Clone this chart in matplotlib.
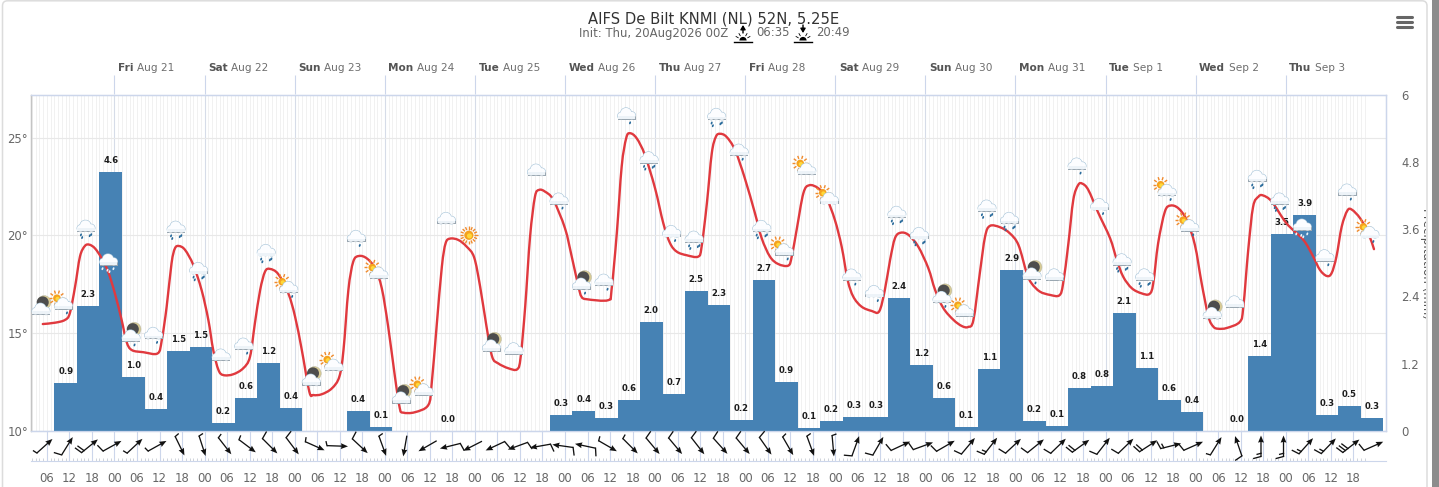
# -*- coding: utf-8 -*-
"""
Meteogram - AIFS De Bilt: temperature line, precipitation bars, wind arrows and
weather symbols
"""

import numpy as np
import matplotlib
matplotlib.use('Agg')
import matplotlib.pyplot as plt
from matplotlib.path import Path
from matplotlib.patches import Circle, Ellipse, FancyBboxPatch, PathPatch, Rectangle, Wedge

#==============================================================================
# data (hours counted from Thu 20 Aug 00Z)
#==============================================================================

title = 'AIFS De Bilt KNMI (NL) 52N, 5.25E'
init_label = 'Init: Thu, 20Aug2026 00Z'
sunrise = '06:35'
sunset = '20:49'

weekdays = ['Fri', 'Sat', 'Sun', 'Mon', 'Tue', 'Wed', 'Thu',
            'Fri', 'Sat', 'Sun', 'Mon', 'Tue', 'Wed', 'Thu']
dates = ['Aug 21', 'Aug 22', 'Aug 23', 'Aug 24', 'Aug 25', 'Aug 26', 'Aug 27',
         'Aug 28', 'Aug 29', 'Aug 30', 'Aug 31', 'Sep 1', 'Sep 2', 'Sep 3']

temp_hours = [4.9, 8.2, 10.8, 12.1, 13.5, 14.8, 16.1, 17.3, 18.8, 20.6, 22.3, 24.1, 25.9, 27.2, 28.6, 31.7,
              35.5, 36.6, 37.9, 39.2, 40.1, 41.2, 42.8, 45.0, 47.2, 49.0, 50.3, 51.7, 53.0, 55.6, 58.3, 60.1,
              61.4, 62.8, 64.1, 65.4, 67.6, 70.3, 72.1, 73.9, 75.9, 77.0, 79.2, 81.9, 83.9, 85.0, 86.3, 87.6,
              89.1, 91.2, 93.4, 95.2, 96.9, 98.7, 100.0, 100.9, 104.0, 107.6, 108.5, 109.8, 111.2, 112.2, 113.4, 115.6,
              117.8, 119.8, 121.4, 123.1, 124.6, 126.2, 128.9, 131.3, 132.2, 133.4, 134.7, 136.0, 137.1, 138.7, 140.9, 144.0,
              145.8, 147.6, 148.4, 149.8, 155.5, 156.4, 157.8, 159.1, 160.3, 161.3, 163.1, 165.3, 168.0, 170.2, 172.0, 173.8,
              176.4, 179.5, 180.4, 181.8, 183.1, 184.2, 185.3, 187.0, 189.3, 191.9, 194.6, 196.4, 198.6, 200.8, 203.5, 204.4,
              205.7, 207.5, 209.1, 211.5, 213.7, 215.9, 217.7, 219.3, 220.8, 223.0, 225.7, 227.7, 229.2, 230.6, 231.9, 233.4,
              235.5, 238.1, 240.8, 242.6, 244.8, 247.5, 249.7, 251.4, 252.8, 254.5, 255.9, 257.2, 259.9, 262.5, 264.8, 267.0,
              268.3, 270.5, 273.2, 275.7, 276.7, 278.1, 279.4, 280.7, 281.8, 283.4, 286.1, 289.2, 291.0, 292.7, 295.0, 297.6,
              299.7, 300.7, 302.0, 303.8, 305.3, 307.4, 309.6, 311.8, 313.6, 315.4, 316.7, 318.0, 320.3, 323.8, 324.7, 326.0,
              327.3, 328.7, 329.9, 332.3, 336.2, 340.7, 343.3, 345.1, 346.9, 348.2, 349.5, 350.9, 352.4, 353.6, 355.8, 358.0,
              359.5]
temp_values = [15.47, 15.54, 15.68, 16.02, 17.38, 18.92, 19.46, 19.53, 19.34, 18.83, 18.15, 17.04, 15.68, 14.57, 14.14, 14.03,
               13.97, 14.65, 16.36, 18.58, 19.34, 19.46, 19.26, 18.49, 17.21, 15.68, 14.14, 13.12, 12.86, 12.90, 13.21, 13.80,
               15.51, 17.21, 18.15, 18.29, 18.03, 17.04, 15.85, 14.14, 12.01, 11.84, 11.88, 12.18, 12.78, 14.14, 17.21, 18.66,
               18.95, 18.83, 18.32, 17.30, 15.34, 12.78, 11.16, 10.94, 10.96, 11.33, 12.44, 15.34, 18.40, 19.60, 19.84, 19.77,
               19.43, 18.88, 17.38, 15.34, 13.80, 13.46, 13.21, 13.16, 13.80, 16.36, 19.94, 21.98, 22.33, 22.24, 21.82, 20.37,
               18.92, 17.38, 16.87, 16.74, 16.69, 17.21, 20.11, 23.52, 24.97, 25.23, 24.97, 24.11, 22.41, 20.62, 19.60, 19.17,
               18.99, 18.92, 19.43, 21.65, 24.20, 25.05, 25.20, 25.05, 24.37, 22.93, 21.14, 19.86, 18.92, 18.54, 18.46, 18.92,
               20.28, 22.16, 22.57, 22.41, 21.90, 20.79, 19.43, 17.72, 16.87, 16.36, 16.14, 16.12, 17.21, 18.75, 19.86, 20.14,
               20.03, 19.43, 18.32, 17.21, 16.28, 15.68, 15.37, 15.32, 15.68, 18.07, 19.94, 20.49, 20.42, 20.11, 19.51, 18.07,
               17.55, 17.13, 16.96, 16.94, 17.55, 19.60, 21.82, 22.58, 22.65, 22.33, 21.14, 19.86, 18.75, 17.89, 17.30, 17.04,
               17.01, 17.55, 19.60, 21.22, 21.53, 21.39, 20.79, 19.51, 17.55, 15.85, 15.34, 15.23, 15.27, 15.59, 16.36, 19.26,
               21.47, 21.98, 22.05, 21.73, 20.62, 19.77, 18.92, 18.24, 17.93, 18.07, 18.92, 20.45, 21.27, 21.32, 20.88, 20.11,
               19.30]

precip_values = [0.86, 2.23, 4.62, 0.96, 0.39, 1.43, 1.50, 0.14, 0.59, 1.21, 0.41, 0.00, 0.00, 0.36, 0.07,
                 0.00, 0.00, 0.00, 0.00, 0.00, 0.00, 0.00, 0.28, 0.36, 0.23, 0.55, 1.94, 0.66, 2.50, 2.25,
                 0.20, 2.69, 0.87, 0.05, 0.18, 0.25, 0.25, 2.37, 1.18, 0.59, 0.07, 1.10, 2.87, 0.18, 0.09,
                 0.77, 0.80, 2.10, 1.12, 0.55, 0.34, 0.00, 0.00, 1.34, 3.51, 3.85, 0.28, 0.44, 0.23]
precip_labels = ['0.9', '2.3', '4.6', '1.0', '0.4', '1.5', '1.5', '0.2', '0.6', '1.2', '0.4', '', '', '0.4', '0.1',
                 '', '', '0.0', '', '', '', '', '0.3', '0.4', '0.3', '0.6', '2.0', '0.7', '2.5', '2.3',
                 '0.2', '2.7', '0.9', '0.1', '0.2', '0.3', '0.3', '2.4', '1.2', '0.6', '0.1', '1.1', '2.9', '0.2', '0.1',
                 '0.8', '0.8', '2.1', '1.1', '0.6', '0.4', '', '0.0', '1.4', '3.5', '3.9', '0.3', '0.5', '0.3']

# arrow heading in degrees (counter clockwise from east) and feather count in half barbs
wind_heading = [42, 58, 39, 29, 43, 29, -64, -72, -52, -37, -45, -53, -24, -2, -43, -70, -100, 210, 194, 207,
                205, 200, 190, 172, 168, -30, -45, -50, -50, -52, -48, -50, -55, -60, -70, -85, 70, 60, 25, 20,
                30, 50, 52, 43, 39, 44, 36, 52, 44, 33, 14, 24, 58, 109, 90, 90, 48, 46, 38, 24]
wind_feathers = [1, 2, 4, 2, 1, 1, 1, 1, 1, 1, 2, 2, 1, 1, 2, 1, 0, 0, 2, 0,
                 2, 2, 2, 2, 2, 1, 1, 2, 2, 2, 2, 2, 2, 1, 1, 1, 2, 2, 2, 2,
                 2, 2, 3, 2, 2, 2, 4, 2, 2, 4, 3, 2, 1, 2, 3, 3, 3, 3, 6, 2]

symbol_kinds = ['moon', 'sun_rain', 'rain2', 'storm', 'moon_rain', 'rain1', 'rain2', 'rain2', 'cloud', 'rain1',
                'rain2', 'sun_rain', 'moon', 'sun', 'rain1', 'sun', 'moon', 'sun', 'cloud', 'clear',
                'moon', 'cloud', 'cloud', 'rain1', 'moon_rain', 'rain1', 'rain1', 'rain2', 'rain1', 'rain2',
                'rain2', 'rain1', 'rain2', 'sun_rain', 'sun', 'sun', 'rain1', 'rain1', 'rain2', 'rain2',
                'moon_rain', 'sun', 'rain2', 'rain2', 'moon_rain', 'cloud', 'rain1', 'rain1', 'rain2', 'rain2',
                'sun_rain', 'sun_rain', 'moon', 'cloud', 'rain2', 'rain2', 'storm', 'rain1', 'rain1', 'sun_rain']
# symbols float near the line, their height is read on the temperature scale
symbol_temps = [16.19, 16.46, 20.43, 18.71, 14.82, 14.95, 20.38, 18.27, 13.84, 14.40,
                19.19, 17.30, 12.56, 13.32, 19.91, 18.03, 11.65, 12.06, 20.83, 20.01,
                14.31, 14.16, 23.30, 21.82, 17.47, 17.67, 26.18, 23.93, 20.16, 19.87,
                26.15, 24.32, 20.42, 19.22, 23.35, 21.85, 17.93, 17.09, 21.14, 20.06,
                16.79, 16.10, 21.46, 20.83, 17.99, 17.94, 23.61, 21.54, 18.71, 17.94,
                22.26, 20.45, 15.97, 16.56, 22.98, 21.82, 20.49, 18.92, 22.28, 20.11]

#==============================================================================
# plot settings
#==============================================================================

bar_color = '#4682b4'
line_color = '#e0393e'
frame_color = '#ccd6eb'
grey_txt = '#666666'

font_tick = {'fontsize': 8.4, 'color': grey_txt}
font_label = {'fontsize': 6.1, 'fontweight': 'bold', 'color': '#1c1c1c'}

W, H = 1439, 487
x_left, x_right = 31, 1386
y_top, y_base, y_wind = 94.5, 431, 461
hour_min, hour_max = 1.76, 362.7

day_hours = np.arange(1, len(dates) + 1) * 24
bar_hours = 11 + 6 * np.arange(len(precip_values))
wind_hours = 5.4 + 6 * np.arange(len(wind_heading))
symbol_hours = 4.4 + 6 * np.arange(len(symbol_kinds))
six_hours = np.arange(6, 355, 6)
hour_to_px = (x_right - x_left) / (hour_max - hour_min)

#==============================================================================
# axes
#==============================================================================

fig = plt.figure(figsize=(W / 100, H / 100), dpi=100)

rect = [x_left / W, (H - y_base) / H, (x_right - x_left) / W, (y_base - y_top) / H]
ax_grid = fig.add_axes(rect)
ax_rain = ax_grid.twinx()
ax_line = ax_grid.twinx()

for a in (ax_grid, ax_rain, ax_line):
    a.set_xlim(hour_min, hour_max)
ax_grid.set_ylim(10, 27.21)
ax_line.set_ylim(10, 27.21)
ax_rain.set_ylim(0, 6)

ax_grid.set_yticks([10, 15, 20, 25])
ax_grid.set_yticklabels(['10°', '15°', '20°', '25°'], **font_tick)
ax_grid.yaxis.grid(True, color='#e8e8e8', lw=0.8)
ax_grid.tick_params(axis='y', length=0, pad=2)

ax_grid.set_xticks(day_hours)
ax_grid.set_xticks(np.arange(2, 358), minor=True)
ax_grid.xaxis.grid(True, which='major', color='#d6dce8', lw=0.8)
ax_grid.xaxis.grid(True, which='minor', color='#eeeeee', lw=0.55)
ax_grid.tick_params(axis='x', which='both', length=0, labelbottom=False)
ax_grid.set_axisbelow(True)

ax_rain.set_yticks([0, 1.2, 2.4, 3.6, 4.8, 6])
ax_rain.set_yticklabels(['0', '1.2', '2.4', '3.6', '4.8', '6'], **font_tick)
ax_rain.tick_params(axis='y', length=0, pad=10.8)
ax_rain.patch.set_alpha(0)

ax_line.axis('off')
for a in (ax_grid, ax_rain):
    for side in a.spines:
        a.spines[side].set_color(frame_color)
        a.spines[side].set_linewidth(0.9)
ax_grid.spines['left'].set_color('#c4c4c4')
ax_rain.spines['left'].set_color('#c4c4c4')

# day ticks above the frame
ax_top = ax_grid.secondary_xaxis('top')
ax_top.set_xticks(day_hours)
ax_top.set_xticklabels([''] * len(day_hours))
ax_top.tick_params(axis='x', length=14, width=0.8, color=frame_color)
ax_top.spines['top'].set_visible(False)

# wind strip
ax_wind = fig.add_axes([x_left / W, (H - y_wind) / H, (x_right - x_left) / W, (y_wind - y_base) / H])
ax_wind.set_xlim(hour_min, hour_max)
ax_wind.set_ylim(0, y_wind - y_base)
ax_wind.patch.set_alpha(0)
for side in ('top', 'left', 'right'):
    ax_wind.spines[side].set_visible(False)
ax_wind.spines['bottom'].set_color(frame_color)
ax_wind.set_yticks([])
ax_wind.set_xticks(six_hours)
ax_wind.set_xticklabels(['%02d' % (h % 24) for h in six_hours], **font_tick)
ax_wind.set_xticks(np.arange(2, 358), minor=True)
ax_wind.tick_params(axis='x', which='major', direction='in', length=21.5, width=0.8, color=frame_color, pad=8)
ax_wind.tick_params(axis='x', which='minor', direction='in', length=2.2, width=0.6, color='#c8ccd4')

#==============================================================================
# marks
#==============================================================================

ax_rain.bar(bar_hours, precip_values, width=6.0, color=bar_color, linewidth=0)
for h, v, lbl in zip(bar_hours, precip_values, precip_labels):
    if lbl:
        ax_rain.annotate(lbl, (h, v), xytext=(0, 8.4), textcoords='offset points',
                         ha='center', va='center', **font_label)


def spline_path(xs, ys):
    # same kind of curve the web chart draws between its points
    xs = np.asarray(xs)
    ys = np.asarray(ys)
    verts = [(xs[0], ys[0])]
    codes = [Path.MOVETO]
    for i in range(len(xs) - 1):
        i0 = max(i - 1, 0)
        i3 = min(i + 2, len(xs) - 1)
        verts.append((xs[i] + (xs[i + 1] - xs[i0]) / 6, ys[i] + (ys[i + 1] - ys[i0]) / 6))
        verts.append((xs[i + 1] - (xs[i3] - xs[i]) / 6, ys[i + 1] - (ys[i3] - ys[i]) / 6))
        verts.append((xs[i + 1], ys[i + 1]))
        codes += [Path.CURVE4, Path.CURVE4, Path.CURVE4]
    return Path(verts, codes)


ax_line.add_patch(PathPatch(spline_path(temp_hours, temp_values), fc='none', ec=line_color,
                            lw=1.7, capstyle='round', joinstyle='round'))

# wind arrows, shaft from quiver and feathers at the tail
heading = np.radians(wind_heading)
shaft = 21.0
centre_y = np.full(len(heading), 15.0)
ax_wind.quiver(wind_hours, centre_y, shaft * np.cos(heading), shaft * np.sin(heading),
               angles='uv', units='dots', scale_units='dots', scale=1, pivot='mid',
               width=1.3, headwidth=4.5, headlength=5.5, headaxislength=5, color='#111111', zorder=5)

for h, head, feathers in zip(wind_hours, heading, wind_feathers):
    tail_x = -np.cos(head) * shaft / 2
    tail_y = -np.sin(head) * shaft / 2
    done = 0
    left = feathers
    while left > 0:
        size = 7.5 if left >= 2 else 4.0
        base_x = tail_x + np.cos(head) * done * 3.2
        base_y = tail_y + np.sin(head) * done * 3.2
        tip_x = base_x + size * np.cos(head + np.radians(105))
        tip_y = base_y + size * np.sin(head + np.radians(105))
        ax_wind.plot([h + base_x / hour_to_px, h + tip_x / hour_to_px],
                     [15 + base_y, 15 + tip_y], color='#111111', lw=0.95, zorder=5, clip_on=False)
        left -= 2
        done += 1

#==============================================================================
# overlay in pixel units: card, menu button, texts and symbols
#==============================================================================

ov = fig.add_axes([0, 0, 1, 1], zorder=10)
ov.set_xlim(0, W)
ov.set_ylim(H, 0)
ov.axis('off')


def draw_cloud(x, y, z):
    # outline, grey underside, white body
    lobes = [(-5.5, 1.2, 3.3), (-0.5, -1.2, 5.5), (5.2, 0.9, 3.7)]
    for dx, dy, r in lobes:
        ov.add_patch(Circle((x + dx, y + dy), r + 0.6, fc='#a9c6da', ec='none', zorder=z))
    ov.add_patch(Rectangle((x - 8.9, y + 1.5), 18.2, 3.6, fc='#9aa7b1', ec='none', zorder=z))
    for dx, dy, r in lobes:
        ov.add_patch(Circle((x + dx, y + dy), r, fc='#fcfdff', ec='none', zorder=z + 0.1))
    ov.add_patch(Rectangle((x - 8.7, y + 1.4), 17.6, 2.8, fc='#edf3f8', ec='none', zorder=z + 0.1))


def draw_drops(x, y, spots, z, color='#2b6c9c'):
    for dx, dy in spots:
        ov.add_patch(Ellipse((x + dx, y + dy), 1.8, 3.0, angle=20, fc=color, ec='none', zorder=z + 0.2))


def draw_sun(x, y, r, z, rays=10):
    for a in np.linspace(0, 2 * np.pi, rays, endpoint=False):
        ov.plot([x + (r + 1) * np.cos(a), x + (r + 4.2) * np.cos(a)],
                [y + (r + 1) * np.sin(a), y + (r + 4.2) * np.sin(a)],
                color='#f08a2c', lw=1.0, zorder=z, solid_capstyle='butt')
    ov.add_patch(Circle((x, y), r, fc='#f5a21f', ec='none', zorder=z))
    ov.add_patch(Circle((x + 0.6, y + 0.6), r * 0.55, fc='#ffd83a', ec='none', zorder=z))


def draw_moon(x, y, z):
    ov.add_patch(Circle((x + 3.2, y - 7.6), 6.8, fc='#d8cb94', ec='#b3b3a0', lw=0.3, zorder=z))
    ov.add_patch(Circle((x + 1.8, y - 7.6), 6.0, fc='#4d4d4d', ec='none', zorder=z))


one_drop = [(3.5, 8.2)]
rain_drops = [(-5, 7.8), (-3.8, 10.5), (3.8, 8.6), (5.2, 7.6)]
storm_drops = [(-6, 8), (-1, 9.5), (5, 8), (1, 11)]

for i, (h, t, kind) in enumerate(zip(symbol_hours, symbol_temps, symbol_kinds)):
    x, y = ov.transData.inverted().transform(ax_line.transData.transform((h, t)))
    z = 10 + i
    if kind == 'clear':
        draw_sun(x, y, 4.6, z, rays=16)
        continue
    if kind in ('moon', 'moon_rain'):
        draw_moon(x, y, z)
    if kind in ('sun', 'sun_rain'):
        draw_sun(x - 6.5, y - 6.5, 3.8, z, rays=10)
    draw_cloud(x, y, z + 0.3)
    if kind in ('rain1', 'moon_rain', 'sun_rain'):
        draw_drops(x, y, one_drop, z + 0.3)
    elif kind == 'rain2':
        draw_drops(x, y, rain_drops, z + 0.3)
    elif kind == 'storm':
        draw_drops(x, y, storm_drops, z + 0.3, color='#eef6fb')

# card border and browser scroll bar
ov.add_patch(FancyBboxPatch((2.5, 0.8), 1424.5, 520, boxstyle='round,pad=0,rounding_size=5',
                            fc='none', ec='#dcdcdc', lw=1.1, zorder=1))
ov.add_patch(Rectangle((1432, 0), 7, H, fc='#8c8c8c', ec='none', zorder=1))

# menu button
for y in (17, 22, 27):
    ov.plot([1397, 1412], [y, y], color='#666666', lw=2.2, solid_capstyle='round', zorder=2)

ov.text(714, 19, title, ha='center', va='center', fontsize=10.6, color='#333333')
ov.text(579, 33, init_label, ha='left', va='center', color=grey_txt, fontsize=8.4)
ov.text(756, 33, sunrise, ha='left', va='center', color=grey_txt, fontsize=8.4)
ov.text(816, 33, sunset, ha='left', va='center', color=grey_txt, fontsize=8.4)


def draw_sun_mark(cx, rising):
    ov.plot([cx - 9, cx + 9], [42, 42], color='k', lw=1.0, zorder=3)
    ov.add_patch(Wedge((cx, 40.5), 3.6, 180, 360, fc='k', ec='none', zorder=3))
    for a in (-60, -30, 30, 60):
        ra = np.radians(a)
        ov.plot([cx + 5.5 * np.sin(ra), cx + 8 * np.sin(ra)],
                [40.5 - 5.5 * np.cos(ra), 40.5 - 8 * np.cos(ra)], color='k', lw=0.6, zorder=3)
    tail, tip = (33, 25) if rising else (25, 33)
    ov.annotate('', (cx, tip), (cx, tail), arrowprops=dict(arrowstyle='-|>,head_width=0.15,head_length=0.25',
                                                           color='k', lw=1, shrinkA=0, shrinkB=0))


draw_sun_mark(743, True)
draw_sun_mark(803, False)

# day labels: bold weekday followed by grey date
renderer = fig.canvas.get_renderer()
for h, wd, dd in zip(day_hours, weekdays, dates):
    x, _ = ov.transData.inverted().transform(ax_line.transData.transform((h, 10)))
    t1 = ov.text(x + 3.5, 68, wd, ha='left', va='center', fontsize=7.6, fontweight='bold', color='#555555')
    x_end = t1.get_window_extent(renderer).x1
    ov.text(x_end + 3.5, 68, dd, ha='left', va='center', fontsize=7.6, color='#6e6e6e')

# axis title is cut off by the card edge
t_axis = ov.text(1427, 263, 'Precipitation (mm)', rotation=270, ha='center', va='center',
                 fontsize=8.6, color='#555555')
t_axis.set_clip_path(Rectangle((1400, 100), 26, 300, transform=ov.transData))
t_axis.set_clip_on(True)

fig.savefig('out.png', dpi=100)
